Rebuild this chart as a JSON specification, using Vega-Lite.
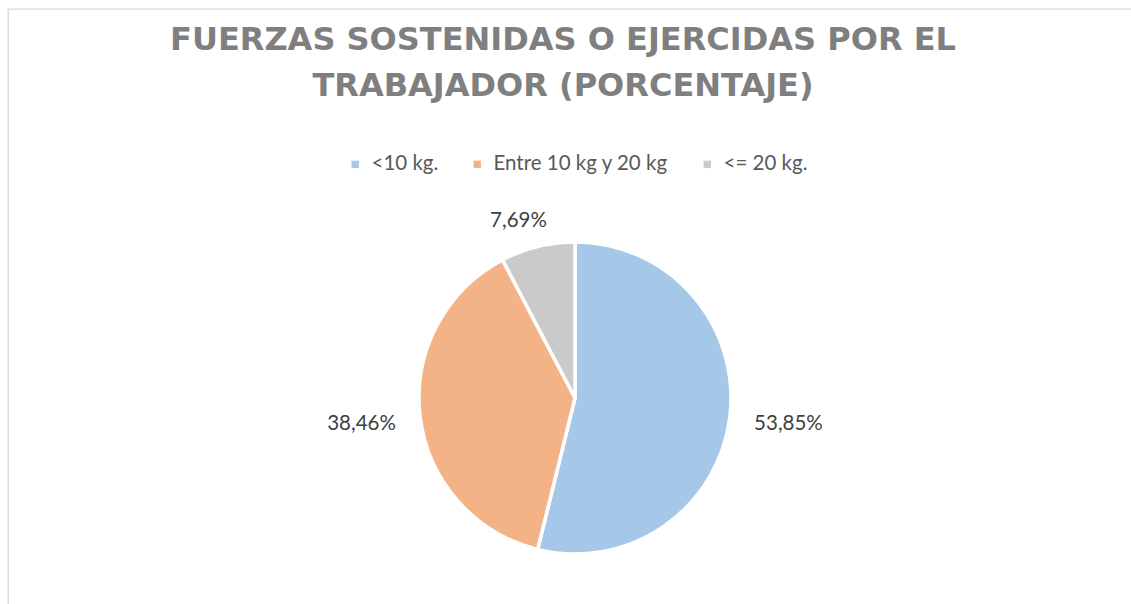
{
  "$schema": "https://vega.github.io/schema/vega-lite/v6.json",
  "autosize": {"type": "none"},
  "padding": {"left": 8, "top": 9, "right": 0, "bottom": 0},
  "width": 1134,
  "height": 778,
  "background": "white",
  "view": {"stroke": "#D9D9D9", "strokeWidth": 1.3},
  "config": {
    "view": {"stroke": "#D9D9D9", "strokeWidth": 1.3},
    "locale": {"number": {"decimal": ",", "thousands": ".", "grouping": [3], "currency": ["", " €"]}}
  },
  "title": {
    "text": ["FUERZAS SOSTENIDAS O EJERCIDAS POR EL", "TRABAJADOR (PORCENTAJE)"],
    "orient": "top",
    "anchor": "middle",
    "frame": "group",
    "baseline": "alphabetic",
    "offset": -119,
    "dx": -12,
    "font": "DejaVu Sans",
    "fontSize": 32,
    "fontWeight": "bold",
    "color": "#7F7F7F",
    "lineHeight": 46
  },
  "data": {
    "values": [
      {"cat": "<10 kg.", "share": 0.5385, "idx": 1},
      {"cat": "Entre 10 kg y 20 kg", "share": 0.3846, "idx": 2},
      {"cat": "<= 20 kg.", "share": 0.0769, "idx": 3}
    ]
  },
  "encoding": {
    "theta": {"field": "share", "type": "quantitative", "stack": true},
    "order": {"field": "idx", "type": "quantitative"}
  },
  "layer": [
    {
      "mark": {"type": "arc", "outerRadius": 156, "stroke": "white", "strokeWidth": 3.5},
      "encoding": {
        "color": {
          "field": "cat",
          "type": "nominal",
          "scale": {
            "domain": ["<10 kg.", "Entre 10 kg y 20 kg", "<= 20 kg."],
            "range": ["#A5C8E9", "#F4B387", "#CACACA"]
          },
          "legend": {
            "title": null,
            "orient": "none",
            "direction": "horizontal",
            "legendX": 337,
            "legendY": 145,
            "symbolType": "square",
            "symbolSize": 55,
            "symbolStrokeWidth": 0,
            "labelFont": "Lato",
            "labelFontSize": 20.5,
            "labelColor": "#595959",
            "labelOffset": 6,
            "labelLimit": 400,
            "columnPadding": 28
          }
        }
      }
    },
    {
      "mark": {
        "type": "text",
        "font": "Lato",
        "fontSize": 20.5,
        "color": "#404040",
        "align": "center",
        "baseline": "middle",
        "radius": {"expr": "datum.cat === '<= 20 kg.' ? 182 : 215"},
        "dx": {"expr": "datum.cat === '<= 20 kg.' ? -13 : 0"}
      },
      "encoding": {
        "text": {"field": "share", "type": "quantitative", "format": ".2%"}
      }
    }
  ]
}
